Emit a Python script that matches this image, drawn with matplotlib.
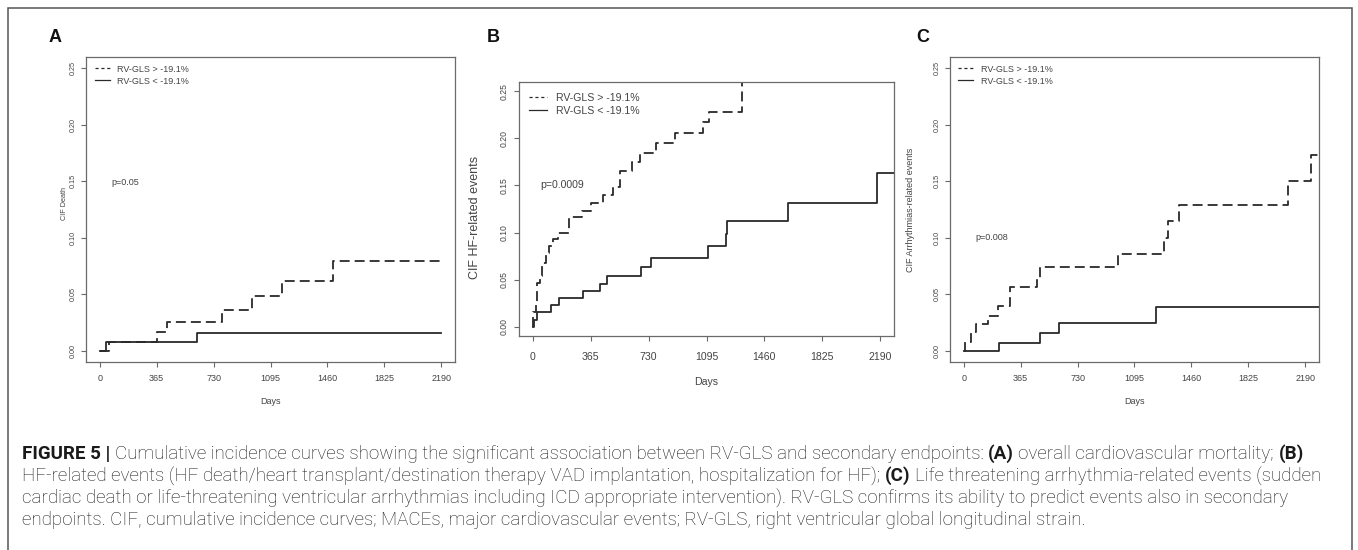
import matplotlib
matplotlib.use("Agg")
import matplotlib.pyplot as plt
from matplotlib.lines import Line2D
from matplotlib.patches import Rectangle

plt.rcParams['font.family'] = ['Liberation Sans', 'DejaVu Sans']

# ---------------- data ----------------
x_ticks = [0, 365, 730, 1095, 1460, 1825, 2190]
x_tick_labels = ["0", "365", "730", "1095", "1460", "1825", "2190"]
y_ticks = [0.0, 0.05, 0.10, 0.15, 0.20, 0.25]
y_tick_labels = ["0.00", "0.05", "0.10", "0.15", "0.20", "0.25"]
legend_labels = ["RV-GLS > -19.1%", "RV-GLS < -19.1%"]

# Panel A: CIF Death
a_days_hi = [0, 60, 365, 433, 785, 975, 1170, 1494, 2190]
a_cif_hi = [0, 0.008, 0.0164, 0.0253, 0.0357, 0.0485, 0.0619, 0.0798, 0.0798]
a_days_lo = [0, 43, 623, 2190]
a_cif_lo = [0, 0.008, 0.0158, 0.0158]

# Panel B: CIF HF-related events
b_days_hi = [0, 3, 18, 27, 42, 60, 80, 100, 128, 160, 228, 312, 368, 440, 505,
             550, 622, 678, 778, 894, 1076, 1112, 1318, 1345]
b_cif_hi = [0, 0.015, 0.024, 0.046, 0.054, 0.068, 0.078, 0.086, 0.093, 0.100, 0.116,
            0.123, 0.131, 0.140, 0.148, 0.165, 0.175, 0.185, 0.195, 0.206, 0.217,
            0.228, 0.30, 0.30]
b_days_lo = [0, 10, 27, 117, 166, 313, 422, 468, 680, 743, 1103, 1215, 1225, 1607, 2173, 2300]
b_cif_lo = [0, 0.0074, 0.0156, 0.0227, 0.0305, 0.0383, 0.0457, 0.0535, 0.0631,
            0.0731, 0.0855, 0.0979, 0.112, 0.1309, 0.1635, 0.1635]

# Panel C: CIF Arrhythmias-related events
c_days_hi = [0, 8, 45, 77, 153, 223, 300, 470, 490, 992, 1286, 1311, 1383, 2077, 2227, 2300]
c_cif_hi = [0, 0.0075, 0.0164, 0.0233, 0.0308, 0.0395, 0.056, 0.064, 0.0742, 0.0853,
            0.0994, 0.1152, 0.1293, 0.150, 0.1735, 0.1735]
c_days_lo = [0, 228, 487, 613, 1232, 2300]
c_cif_lo = [0, 0.0069, 0.0156, 0.0245, 0.0389, 0.0389]

panels = [
    dict(letter="A", ylabel="CIF Death", p="p=0.05", p_xy=(75, 0.149),
         hi=(a_days_hi, a_cif_hi), lo=(a_days_lo, a_cif_lo),
         box=(86, 57, 455, 362), fs=6.5, yfs=5.2, ylfs=5.2, letter_xy=(55, 38),
         xpad=4.8, ypad=3.4,
         ylab_xy=(-0.058, 0.52), xlab_y=-0.131, leg_xy=(0.024, 0.975),
         hl=1.7, htp=0.8),
    dict(letter="B", ylabel="CIF HF-related events", p="p=0.0009", p_xy=(45, 0.15),
         hi=(b_days_hi, b_cif_hi), lo=(b_days_lo, b_cif_lo),
         box=(519, 82, 894, 336), fs=7.6, yfs=6.2, ylfs=9.0, letter_xy=(493, 38),
         xpad=8.0, ypad=4.2,
         ylab_xy=(-0.117, 0.465), xlab_y=-0.181, leg_xy=(0.027, 0.958),
         hl=1.7, htp=0.85),
    dict(letter="C", ylabel="CIF Arrhythmias-related events", p="p=0.008", p_xy=(75, 0.1005),
         hi=(c_days_hi, c_cif_hi), lo=(c_days_lo, c_cif_lo),
         box=(950, 57, 1319, 362), fs=6.5, yfs=5.2, ylfs=6.5, letter_xy=(923, 38),
         xpad=4.8, ypad=3.4,
         ylab_xy=(-0.108, 0.5), xlab_y=-0.131, leg_xy=(0.022, 0.975),
         hl=1.7, htp=0.8),
]

W, H = 1358, 550
fig = plt.figure(figsize=(W / 100, H / 100), dpi=100)

# outer frame (open at bottom)
fig.patches.append(Rectangle((8 / W, -0.2), (1352 - 8) / W, 1.2 - 8 / H,
                             transform=fig.transFigure, fill=False,
                             edgecolor="#555555", linewidth=1.1))

LINE = "#2a2a2a"
TXT = "#444444"
SP = "#6a6a6a"

for P in panels:
    l, t, r, b = P["box"]
    ax = fig.add_axes([l / W, 1 - b / H, (r - l) / W, (b - t) / H])
    fs = P["fs"]
    ax.step(P["hi"][0], P["hi"][1], where="post", color=LINE, lw=1.3,
            linestyle=(0, (5.5, 2.8)), solid_capstyle="butt")
    ax.step(P["lo"][0], P["lo"][1], where="post", color=LINE, lw=1.3)
    ax.set_xlim(-87.6, 2277.6)
    ax.set_ylim(-0.01, 0.26)
    ax.set_xticks(x_ticks)
    ax.set_xticklabels(x_tick_labels)
    ax.set_yticks(y_ticks)
    ax.set_yticklabels(y_tick_labels, rotation=90, va="center")
    ax.tick_params(direction="out", length=3.5, width=0.8, color=SP,
                   labelcolor=TXT)
    ax.tick_params(axis="x", labelsize=fs, pad=P["xpad"])
    ax.tick_params(axis="y", labelsize=P["yfs"], pad=P["ypad"])
    for s in ax.spines.values():
        s.set_color(SP)
        s.set_linewidth(0.9)
    ax.set_xlabel("Days", fontsize=fs, color=TXT, va="center")
    ax.xaxis.set_label_coords(0.5, P["xlab_y"])
    ax.set_ylabel(P["ylabel"], fontsize=P["ylfs"], color=TXT, va="center")
    ax.yaxis.set_label_coords(*P["ylab_xy"])
    ax.text(P["p_xy"][0], P["p_xy"][1], P["p"], fontsize=fs, color=TXT,
            ha="left", va="center")
    handles = [Line2D([], [], color=LINE, lw=0.9, linestyle=(0, (2.5, 2.2))),
               Line2D([], [], color=LINE, lw=0.9)]
    leg = ax.legend(handles, legend_labels, loc="upper left",
                    bbox_to_anchor=P["leg_xy"], frameon=False, fontsize=fs,
                    borderpad=0, borderaxespad=0, handlelength=P["hl"],
                    handletextpad=P["htp"], labelspacing=0.32)
    for tx in leg.get_texts():
        tx.set_color(TXT)
    fig.text(P["letter_xy"][0] / W, 1 - P["letter_xy"][1] / H, P["letter"],
             fontsize=13, fontweight="bold", ha="center", va="center", color="#111111")

# ---------------- caption ----------------
caption_lines = [
    [("FIGURE 5 |", True),
     ("Cumulative incidence curves showing the significant association between RV-GLS and secondary endpoints:", False),
     ("(A)", True), ("overall cardiovascular mortality;", False), ("(B)", True)],
    [("HF-related events (HF death/heart transplant/destination therapy VAD implantation, hospitalization for HF);", False),
     ("(C)", True), ("Life threatening arrhythmia-related events (sudden", False)],
    [("cardiac death or life-threatening ventricular arrhythmias including ICD appropriate intervention). RV-GLS confirms its ability to predict events also in secondary", False)],
    [("endpoints. CIF, cumulative incidence curves; MACEs, major cardiovascular events; RV-GLS, right ventricular global longitudinal strain.", False)],
]
cap_y = [454, 476, 498, 520]
cap_x0 = 22
cap_target_w = [1324, 1296, 1294]
CAP_FONT = ['Roboto', 'Liberation Sans', 'DejaVu Sans']

renderer = fig.canvas.get_renderer()


def measure(s, size, bold):
    t = fig.text(0, 0, s, fontsize=size, family=CAP_FONT,
                 fontweight="bold" if bold else "light")
    w = t.get_window_extent(renderer).width
    t.remove()
    return w


def line_width(runs, size):
    sp = measure("a a", size, False) - measure("aa", size, False)
    return sum(measure(s, size, bd) for s, bd in runs) + sp * (len(runs) - 1)


base = 10.0
cap_size = min(base * tw / line_width(runs, base)
               for runs, tw in zip(caption_lines, cap_target_w))
space_w = measure("a a", cap_size, False) - measure("aa", cap_size, False)

for runs, yy in zip(caption_lines, cap_y):
    x = cap_x0
    for s, bd in runs:
        t = fig.text(x / W, 1 - yy / H, s, fontsize=cap_size, family=CAP_FONT,
                     fontweight="bold" if bd else "light", color="#1a1a1a",
                     ha="left", va="center")
        x += t.get_window_extent(renderer).width + space_w

fig.savefig("out.png", dpi=100)
